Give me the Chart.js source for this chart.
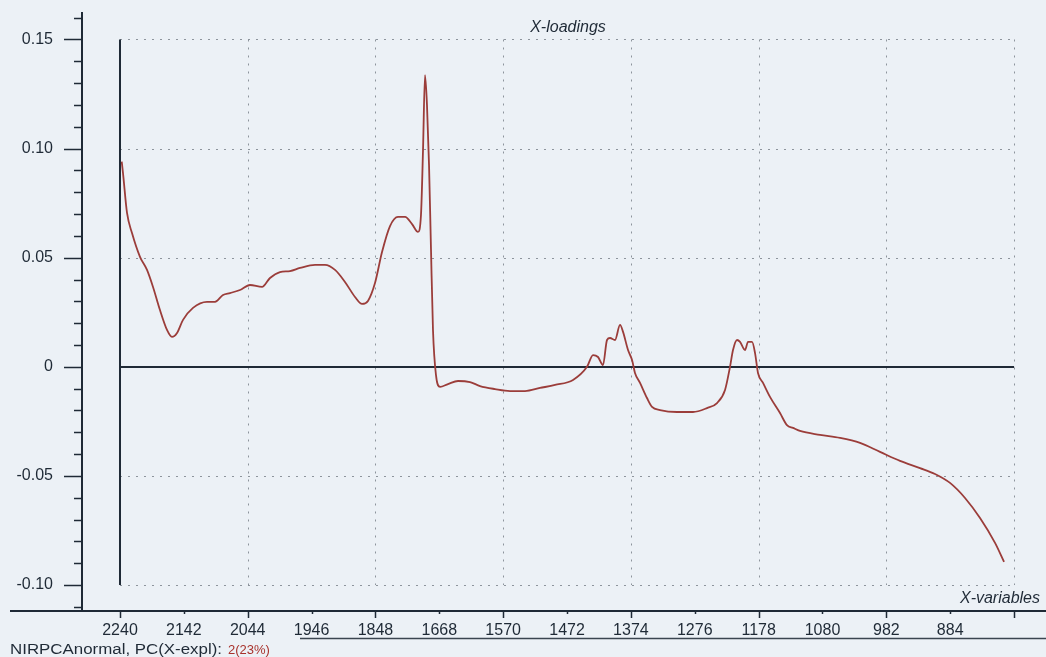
<!DOCTYPE html>
<html>
<head>
<meta charset="utf-8">
<style>
  html, body { margin: 0; padding: 0; background: #ecf1f6; }
  #wrap { width: 1046px; height: 657px; position: relative; }
  canvas { display: block; }
</style>
<script src="https://cdn.jsdelivr.net/npm/chart.js@4.4.1/dist/chart.umd.min.js"></script>
</head>
<body>
<div id="wrap"><canvas id="c" width="1046" height="657"></canvas></div>
<script>
// Variable axis: tick positions 0..14 carry these labels
const xTickLabels = ['2240','2142','2044','1946','1848','1668','1570','1472','1374','1276','1178','1080','982','884',''];
const yTickValues = [-0.10, -0.05, 0, 0.05, 0.10, 0.15];

// PC2 loading curve: position along the variable axis and loading value
const varPos = [
  0.027, 0.047, 0.110, 0.188, 0.313, 0.423, 0.517, 0.626, 0.736, 0.814,
  0.893, 0.987, 1.143, 1.362, 1.488, 1.613, 1.722, 1.879, 2.035, 2.224,
  2.349, 2.505, 2.662, 2.819, 3.054, 3.210, 3.367, 3.523, 3.680, 3.790,
  3.883, 3.993, 4.103, 4.228, 4.353, 4.463, 4.573, 4.666, 4.713, 4.745,
  4.776, 4.807, 4.839, 4.870, 4.901, 4.948, 5.011, 5.136, 5.293, 5.481,
  5.637, 5.872, 6.107, 6.342, 6.577, 6.812, 7.094, 7.313, 7.407, 7.485,
  7.563, 7.626, 7.673, 7.751, 7.830, 7.877, 7.955, 8.018, 8.064, 8.143,
  8.252, 8.331, 8.456, 8.722, 8.973, 9.192, 9.349, 9.474, 9.552, 9.599,
  9.662, 9.709, 9.787, 9.834, 9.897, 9.944, 9.990, 10.069, 10.178, 10.335,
  10.444, 10.538, 10.648, 10.961, 11.274, 11.588, 11.901, 12.214, 12.527, 12.762,
  12.997, 13.232, 13.467, 13.702, 13.843
];
const loadings = [
  0.0940, 0.0888, 0.0705, 0.0613, 0.0504, 0.0444, 0.0366, 0.0260, 0.0169, 0.0137,
  0.0155, 0.0215, 0.0270, 0.0298, 0.0298, 0.0329, 0.0338, 0.0352, 0.0375, 0.0366,
  0.0407, 0.0434, 0.0439, 0.0453, 0.0467, 0.0467, 0.0444, 0.0389, 0.0320, 0.0288,
  0.0302, 0.0384, 0.0526, 0.0645, 0.0687, 0.0687, 0.0654, 0.0618, 0.0696, 0.0994,
  0.1337, 0.1200, 0.0925, 0.0536, 0.0169, -0.0038, -0.0092, -0.0079, -0.0065, -0.0070,
  -0.0088, -0.0102, -0.0111, -0.0111, -0.0097, -0.0083, -0.0060, 0.0000, 0.0054, 0.0045,
  0.0008, 0.0123, 0.0132, 0.0123, 0.0192, 0.0160, 0.0077, 0.0031, -0.0028, -0.0074,
  -0.0143, -0.0184, -0.0198, -0.0207, -0.0207, -0.0189, -0.0166, -0.0106, 0.0000, 0.0077,
  0.0123, 0.0114, 0.0077, 0.0114, 0.0114, 0.0063, -0.0028, -0.0074, -0.0138, -0.0212,
  -0.0267, -0.0280, -0.0294, -0.0312, -0.0326, -0.0349, -0.0390, -0.0431, -0.0464, -0.0491,
  -0.0532, -0.0601, -0.0693, -0.0807, -0.0894
];

const INK = '#1f2a36';
const FONT = '"Liberation Sans", Arial, sans-serif';

// Frame, grid, ticks and captions drawn around the plot in the classic loadings-plot style
const framePlugin = {
  id: 'frame',
  beforeDraw(chart) {
    const ctx = chart.ctx;
    ctx.save();
    ctx.fillStyle = '#ecf1f6';
    ctx.fillRect(0, 0, chart.width, chart.height);
    ctx.restore();
  },
  beforeDatasetsDraw(chart) {
    const { ctx, scales: { x, y } } = chart;
    const left = x.getPixelForValue(0), right = x.getPixelForValue(14);
    const top = y.getPixelForValue(0.15), bottom = y.getPixelForValue(-0.10);
    ctx.save();
    // dotted grid
    ctx.strokeStyle = '#8d949c';
    ctx.lineWidth = 1;
    ctx.setLineDash([2, 6]);
    yTickValues.forEach(v => {
      if (v === 0) return;
      const py = Math.round(y.getPixelForValue(v)) + 0.5;
      ctx.beginPath(); ctx.moveTo(left, py); ctx.lineTo(right, py); ctx.stroke();
    });
    for (let i = 2; i <= 14; i += 2) {
      const px = Math.round(x.getPixelForValue(i)) + 0.5;
      ctx.beginPath(); ctx.moveTo(px, top); ctx.lineTo(px, bottom); ctx.stroke();
    }
    ctx.setLineDash([]);
    // zero line and origin line
    ctx.strokeStyle = INK;
    ctx.lineWidth = 2;
    const zy = Math.round(y.getPixelForValue(0));
    ctx.beginPath(); ctx.moveTo(left, zy); ctx.lineTo(right, zy); ctx.stroke();
    ctx.beginPath(); ctx.moveTo(left, top); ctx.lineTo(left, bottom); ctx.stroke();
    ctx.restore();
  },
  afterDraw(chart) {
    const { ctx, chartArea: ca, scales: { x, y } } = chart;
    ctx.save();
    ctx.strokeStyle = INK;
    // y axis line + ticks
    ctx.lineWidth = 2;
    ctx.beginPath(); ctx.moveTo(ca.left, ca.top); ctx.lineTo(ca.left, ca.bottom); ctx.stroke();
    ctx.lineWidth = 1.5;
    for (let k = -11; k <= 16; k++) {
      const v = k / 100;
      const py = Math.round(y.getPixelForValue(v)) + 0.5;
      if (py < ca.top + 2 || py > ca.bottom - 2) continue;
      const len = (k % 5 === 0) ? 18 : 8;
      ctx.beginPath(); ctx.moveTo(ca.left - len, py); ctx.lineTo(ca.left, py); ctx.stroke();
    }
    // x axis line + ticks
    ctx.lineWidth = 2;
    ctx.beginPath(); ctx.moveTo(10, ca.bottom); ctx.lineTo(chart.width, ca.bottom); ctx.stroke();
    ctx.lineWidth = 1.5;
    for (let i = 0; i <= 14; i++) {
      const px = Math.round(x.getPixelForValue(i)) + 0.5;
      const len = (i % 2 === 0) ? 7 : 3;
      ctx.beginPath(); ctx.moveTo(px, ca.bottom); ctx.lineTo(px, ca.bottom + len); ctx.stroke();
    }
    // status bar separator
    ctx.strokeStyle = '#3a4550';
    ctx.lineWidth = 1.5;
    ctx.beginPath(); ctx.moveTo(300, 638.5); ctx.lineTo(chart.width, 638.5); ctx.stroke();

    // captions
    ctx.fillStyle = INK;
    ctx.textBaseline = 'middle';
    ctx.font = 'italic 16px ' + FONT;
    ctx.textAlign = 'center';
    ctx.fillText('X-loadings', 568, 28);
    ctx.textAlign = 'right';
    ctx.fillText('X-variables', 1040, 599);

    // status line
    ctx.textAlign = 'left';
    ctx.font = '14px ' + FONT;
    const s1 = 'NIRPCAnormal, PC(X-expl):';
    const s2 = '2(23%)';
    const w1 = ctx.measureText(s1).width;
    ctx.save();
    ctx.translate(10, 650);
    ctx.scale(212 / w1, 1);
    ctx.fillText(s1, 0, 0);
    ctx.restore();
    ctx.fillStyle = '#a8322c';
    ctx.font = '13px ' + FONT;
    ctx.fillText(s2, 228, 650);
    ctx.restore();
  }
};

new Chart(document.getElementById('c'), {
  type: 'line',
  data: {
    datasets: [{
      data: varPos.map((p, i) => ({ x: p, y: loadings[i] })),
      borderColor: '#9b3d3a',
      borderWidth: 1.8,
      pointRadius: 0,
      cubicInterpolationMode: 'monotone',
      fill: false
    }]
  },
  options: {
    responsive: false,
    animation: false,
    events: [],
    layout: { padding: { top: 12, left: 0, right: 0, bottom: 0 } },
    plugins: { legend: { display: false }, tooltip: { enabled: false }, title: { display: false } },
    scales: {
      x: {
        type: 'linear',
        min: -0.595,
        max: 14.50,
        afterFit(scale) {
          scale.height = 46;
          scale.paddingLeft = 0;
          scale.paddingRight = 0;
        },
        afterBuildTicks(scale) {
          scale.ticks = xTickLabels.map((_, i) => ({ value: i }));
        },
        grid: { display: false, drawTicks: false },
        border: { display: false },
        ticks: {
          autoSkip: false,
          maxRotation: 0,
          padding: 10,
          color: INK,
          font: { family: FONT, size: 16 },
          callback: (v) => xTickLabels[Math.round(v)] ?? ''
        }
      },
      y: {
        type: 'linear',
        min: -0.1119,
        max: 0.1626,
        afterFit(scale) {
          scale.width = 82;
          scale.paddingTop = 0;
          scale.paddingBottom = 0;
        },
        afterBuildTicks(scale) {
          scale.ticks = yTickValues.map(v => ({ value: v }));
        },
        grid: { display: false, drawTicks: false },
        border: { display: false },
        ticks: {
          padding: 29,
          color: INK,
          font: { family: FONT, size: 16 },
          callback: (v) => Math.abs(v) < 1e-9 ? '0' : v.toFixed(2)
        }
      }
    }
  },
  plugins: [framePlugin]
});
</script>
</body>
</html>
